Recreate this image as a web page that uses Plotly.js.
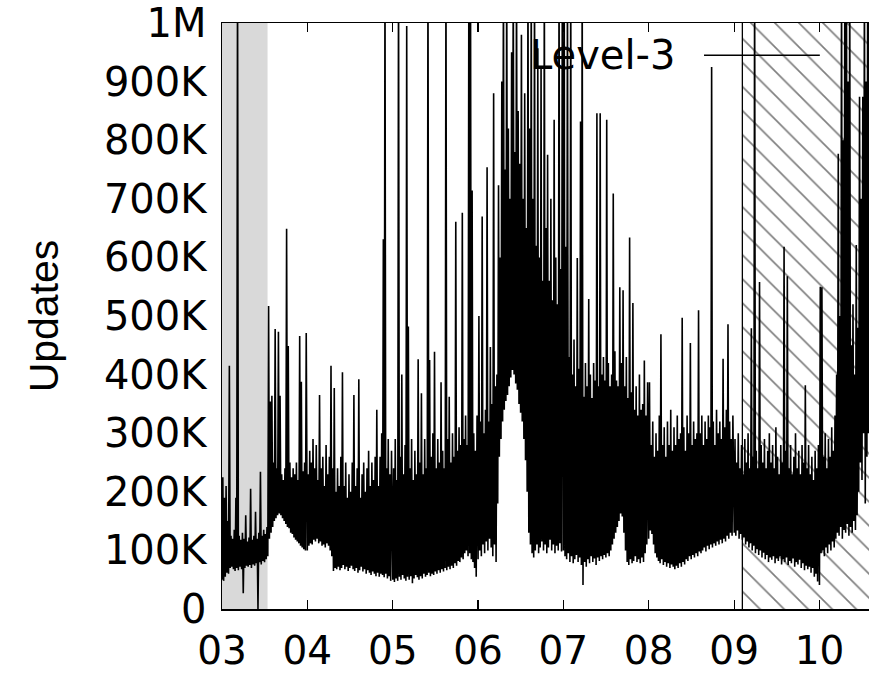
<!DOCTYPE html>
<html>
<head>
<meta charset="utf-8">
<script src="https://cdn.plot.ly/plotly-3.0.1.min.js"></script>
<style>
html,body{margin:0;padding:0;background:#fff;}
#chart{width:869px;height:677px;}
</style>
</head>
<body>
<div id="chart"></div>
<script>
// Weekly samples (in thousands of updates): for each week a low reading and a high reading.
const low2003  = [50,48,55,62,60,70,72,68,65,70,66,72,68,27,70,74,72,75,70,76,74,78,0,80,76,82,80,85,90,120,130,140,150,155,160,163,160,155,150,145,140,138,130,128,122,118,115,112,108,105,102,100];
const high2003 = [225,190,210,150,415,125,120,135,190,1100,125,118,130,120,160,115,122,205,118,125,166,120,130,234,125,135,128,140,517,354,364,250,478,240,473,364,230,220,240,649,449,250,225,240,230,250,220,466,388,235,250,471];

const low2004  = [100,108,112,110,118,115,120,112,115,108,110,105,112,108,100,90,65,70,68,72,66,70,75,68,72,65,70,74,68,65,70,62,66,72,64,68,60,66,62,58,64,60,56,62,55,60,58,54,60,52,56,48];
const high2004 = [230,270,250,290,240,280,220,365,240,260,210,280,230,260,415,240,377,200,240,210,260,404,210,250,190,230,200,250,365,210,240,392,190,230,250,200,240,270,210,250,220,260,340,210,260,300,631,1100,240,290,230,270];

const low2005  = [50,46,52,48,55,50,58,52,48,55,50,56,44,52,58,54,50,56,52,60,55,58,62,56,60,58,64,60,66,62,68,64,70,66,72,68,74,70,78,74,82,80,88,85,95,100,90,95,85,80,70,55];
const high2005 = [240,290,220,1100,260,400,230,280,995,482,240,290,220,270,230,426,250,368,230,290,240,1100,425,260,300,439,240,290,250,387,270,240,1100,290,362,250,300,260,661,270,310,280,676,290,330,280,1100,1100,714,300,270,330];

const low2006  = [85,100,90,110,95,115,100,120,105,90,110,80,180,260,290,320,340,355,365,380,395,408,400,385,374,350,335,320,290,254,200,130,110,95,88,100,110,95,105,115,100,110,95,105,118,100,110,95,108,100,112,98];
const high2006 = [500,320,670,300,340,754,320,447,350,880,380,400,723,600,900,1100,750,1100,820,700,950,1100,780,1100,850,760,980,700,880,650,1100,820,1100,700,1100,620,957,600,922,560,1100,650,775,560,700,527,835,600,520,1100,580,1100];

const low2007  = [100,90,85,95,80,90,78,85,92,80,88,75,41,80,72,85,78,90,80,86,75,88,82,90,85,92,88,95,90,100,110,120,130,140,150,163,158,130,100,80,75,85,78,82,90,80,85,78,88,80,95,110];
const high2007 = [1100,618,1100,430,1100,400,460,380,599,410,832,1100,362,420,380,529,400,360,420,390,846,380,846,400,430,390,835,420,380,400,709,440,390,380,549,420,544,380,430,360,634,370,522,340,380,330,400,340,350,424,330,387];

const low2008  = [120,134,128,110,95,88,82,78,85,75,80,72,78,70,76,72,68,74,70,78,72,80,76,85,82,90,85,92,88,95,90,98,95,100,105,98,108,102,110,105,112,108,115,110,118,112,120,115,125,120,130,125];
const high2008 = [387,280,320,260,300,270,330,469,280,310,260,320,280,340,270,310,280,330,290,300,497,310,270,330,300,454,280,320,290,300,510,300,330,280,320,290,330,310,925,320,280,340,300,320,290,427,310,340,486,320,290,330];

const low2009  = [130,125,134,120,128,118,122,110,115,105,112,100,108,95,102,92,100,88,96,85,92,80,88,84,90,78,86,82,90,76,85,80,88,75,82,78,86,72,80,76,84,70,78,66,74,68,72,62,70,55,60,47];
const high2009 = [290,250,300,240,280,230,290,250,300,240,479,260,1100,270,240,558,280,250,290,240,270,300,250,280,240,310,260,230,280,250,618,270,568,240,280,230,260,300,240,270,230,280,250,382,240,280,230,260,220,270,240,280];

const low2010  = [41,95,100,90,105,95,110,100,115,105,120,130,125,140,120,135,130,145,125,140,130,150,135,160,200,250,220,300,180,260,300];
const high2010 = [550,549,260,300,240,290,260,310,270,330,400,777,500,1100,800,1100,1100,900,1100,450,520,400,621,480,874,700,874,1100,900,1100,1100];

const years = [2003, 2004, 2005, 2006, 2007, 2008, 2009, 2010];
const lowsByYear  = [low2003, low2004, low2005, low2006, low2007, low2008, low2009, low2010];
const highsByYear = [high2003, high2004, high2005, high2006, high2007, high2008, high2009, high2010];

const seriesName = 'Level-3';
const xTickDates  = ['2003-01-01','2004-01-01','2005-01-01','2006-01-01','2007-01-01','2008-01-01','2009-01-01','2010-01-01'];
const xTickLabels = ['03','04','05','06','07','08','09','10'];
const yTickVals   = [0,100,200,300,400,500,600,700,800,900,1000];
const yTickLabels = ['0','100K','200K','300K','400K','500K','600K','700K','800K','900K','1M'];
const xRange      = ['2003-01-01','2010-08-01'];
const grayPeriod  = ['2003-01-01','2003-07-15'];
const hatchPeriod = ['2009-02-05','2010-08-01'];

// Build the single time series
const DAY = 86400000;
const xs = [], ys = [];
years.forEach((yr, i) => {
  const t0 = Date.UTC(yr, 0, 1);
  const lo = lowsByYear[i], hi = highsByYear[i];
  for (let k = 0; k < lo.length; k++) {
    xs.push(t0 + 7 * k * DAY);          ys.push(lo[k]);
    xs.push(t0 + (7 * k + 3.5) * DAY);  ys.push(hi[k]);
  }
});

const yTop = yTickVals[yTickVals.length - 1];

const grayTrace = {
  x: [grayPeriod[0], grayPeriod[1], grayPeriod[1], grayPeriod[0], grayPeriod[0]],
  y: [0, 0, yTop, yTop, 0],
  mode: 'lines', fill: 'toself', fillcolor: '#d9d9d9',
  line: {width: 0, color: '#d9d9d9'}, hoverinfo: 'skip', showlegend: false
};

const hatchTrace = {
  x: [hatchPeriod[0], hatchPeriod[1], hatchPeriod[1], hatchPeriod[0], hatchPeriod[0]],
  y: [0, 0, yTop, yTop, 0],
  mode: 'lines', fill: 'toself', fillcolor: 'rgba(255,255,255,0)',
  fillpattern: {shape: '\\', size: 17, solidity: 0.1, fgcolor: '#000000', bgcolor: 'rgba(255,255,255,0)', fillmode: 'overlay'},
  line: {width: 0, color: 'rgba(0,0,0,0)'}, hoverinfo: 'skip', showlegend: false
};

const hatchEdge = {
  x: [hatchPeriod[0], hatchPeriod[0]], y: [0, yTop],
  mode: 'lines', line: {width: 1.3, color: '#000000'}, hoverinfo: 'skip', showlegend: false
};

const dataTrace = {
  x: xs, y: ys, type: 'scatter', mode: 'lines', name: seriesName,
  line: {color: '#000000', width: 1.6}, hoverinfo: 'skip', showlegend: false
};

const WIDEFONT = '"DejaVu Sans", "Liberation Sans", Arial, sans-serif';
const TITLEFONT = '"Liberation Sans", Arial, Helvetica, sans-serif';

const layout = {
  width: 869, height: 677,
  margin: {l: 222, r: 0, t: 23, b: 68, pad: 0},
  paper_bgcolor: '#ffffff', plot_bgcolor: '#ffffff',
  showlegend: false,
  font: {family: WIDEFONT, size: 40, color: '#000000'},
  xaxis: {
    type: 'date', range: xRange,
    tickmode: 'array', tickvals: xTickDates, ticktext: xTickLabels,
    ticks: 'inside', ticklen: 9, tickwidth: 1.3, tickcolor: '#000000',
    showline: true, linecolor: '#000000', linewidth: 1.5, mirror: 'ticks',
    showgrid: false, zeroline: false,
    tickfont: {family: WIDEFONT, size: 39, color: '#000000'},
    ticklabelstandoff: 7,
    ticklabeloverflow: 'allow'
  },
  yaxis: {
    range: [0, yTop],
    tickmode: 'array', tickvals: yTickVals, ticktext: yTickLabels,
    ticks: '', showline: true, linecolor: '#000000', linewidth: 1.5, mirror: false,
    showgrid: false, zeroline: false,
    tickfont: {family: WIDEFONT, size: 40, color: '#000000'},
    ticklabelstandoff: 6,
    ticklabeloverflow: 'allow',
    title: {text: 'Updates', font: {family: TITLEFONT, size: 41, color: '#000000'}, standoff: 32}
  },
  annotations: [{
    xref: 'paper', yref: 'paper', x: 0.703, y: 0.945, xanchor: 'right', yanchor: 'middle',
    text: seriesName, showarrow: false, font: {family: WIDEFONT, size: 40, color: '#000000'}
  }],
  shapes: [{
    type: 'line', xref: 'paper', yref: 'paper', x0: 0.745, x1: 0.924, y0: 0.945, y1: 0.945,
    line: {color: '#000000', width: 1.5}
  }]
};

Plotly.newPlot('chart', [grayTrace, hatchTrace, hatchEdge, dataTrace], layout, {staticPlot: true, displayModeBar: false});
</script>
</body>
</html>
